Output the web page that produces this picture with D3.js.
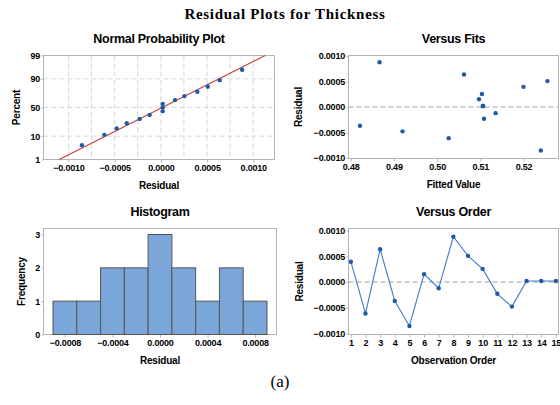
<!DOCTYPE html>
<html>
<head>
<meta charset="utf-8">
<script src="https://cdn.jsdelivr.net/npm/d3@7"></script>
<style>
  html, body { margin: 0; padding: 0; background: #fff; }
  svg { display: block; }
  text { font-family: "Liberation Sans", Arial, sans-serif; }
</style>
</head>
<body>
<svg id="chart" width="560" height="405"></svg>
<script>
// Residuals of the Thickness model, in observation order
const observationOrder = [1, 2, 3, 4, 5, 6, 7, 8, 9, 10, 11, 12, 13, 14, 15];
const residuals = [0.000395, -0.000611, 0.000637, -0.000369, -0.000854, 0.000153, -0.000121,
                   0.000879, 0.000508, 0.000255, -0.000229, -0.000478, 0.00002, 0.00002, 0.00002];
const fittedValues = [0.5200, 0.50269, 0.50623, 0.48215, 0.5240, 0.50969, 0.51354,
                      0.48669, 0.52554, 0.51038, 0.51085, 0.4920, 0.51062, 0.51062, 0.51062];

// Axis ticks
const probTicks = [1, 10, 50, 90, 99];
const probGrid = [10, 50, 90];
const probResidTicks = [-0.0010, -0.0005, 0.0000, 0.0005, 0.0010];
const probResidGrid = [-0.001, -0.00075, -0.0005, -0.00025, 0, 0.00025, 0.0005, 0.00075, 0.001];
const residTicks = [-0.0010, -0.0005, 0.0000, 0.0005, 0.0010];
const fitTicks = [0.48, 0.49, 0.50, 0.51, 0.52];
const histTicks = [-0.0008, -0.0004, 0.0000, 0.0004, 0.0008];
const histBinEdges = [-0.0009, -0.0007, -0.0005, -0.0003, -0.0001, 0.0001, 0.0003, 0.0005, 0.0007, 0.0009];
const freqTicks = [0, 1, 2, 3];

const svg = d3.select("#chart");
svg.append("rect").attr("width", 560).attr("height", 405).attr("fill", "#fff");

const FRAME = "#b4b4b4";
const POINT = "#1f5aa6";
const fmt4 = d3.format(".4f");
const fmt2 = d3.format(".2f");

// Inverse standard normal CDF (Acklam's rational approximation)
function qnorm(p) {
  const a = [-3.969683028665376e+01, 2.209460984245205e+02, -2.759285104469687e+02,
             1.383577518672690e+02, -3.066479806614716e+01, 2.506628277459239e+00];
  const b = [-5.447609879822406e+01, 1.615858368580409e+02, -1.556989798598866e+02,
             6.680131188771972e+01, -1.328068155833581e+01];
  const c = [-7.784894002430293e-03, -3.223964580411365e-01, -2.400758277161838e+00,
             -2.549732539343734e+00, 4.374664141464968e+00, 2.938163982698783e+00];
  const d = [7.784695709041462e-03, 3.224671290700398e-01, 2.445134137142996e+00,
             3.754408661907416e+00];
  const plow = 0.02425;
  let q, r;
  if (p < plow) {
    q = Math.sqrt(-2 * Math.log(p));
    return (((((c[0]*q+c[1])*q+c[2])*q+c[3])*q+c[4])*q+c[5]) / ((((d[0]*q+d[1])*q+d[2])*q+d[3])*q+1);
  } else if (p <= 1 - plow) {
    q = p - 0.5; r = q * q;
    return (((((a[0]*r+a[1])*r+a[2])*r+a[3])*r+a[4])*r+a[5])*q / (((((b[0]*r+b[1])*r+b[2])*r+b[3])*r+b[4])*r+1);
  }
  q = Math.sqrt(-2 * Math.log(1 - p));
  return -(((((c[0]*q+c[1])*q+c[2])*q+c[3])*q+c[4])*q+c[5]) / ((((d[0]*q+d[1])*q+d[2])*q+d[3])*q+1);
}

// Frame, axes and titles shared by all four panels
function panel(box, x, y, opts) {
  const g = svg.append("g");
  const xAxis = d3.axisBottom(x).tickValues(opts.xTicks).tickFormat(opts.xFormat)
    .tickSize(3).tickPadding(2);
  const yAxis = d3.axisLeft(y).tickValues(opts.yTicks).tickFormat(opts.yFormat)
    .tickSize(2).tickPadding(1.5);
  const gx = g.append("g").attr("transform", `translate(0,${box.y1})`).call(xAxis);
  const gy = g.append("g").attr("transform", `translate(${box.x0},0)`).call(yAxis);
  [gx, gy].forEach(a => {
    a.select(".domain").remove();
    a.selectAll(".tick line").attr("stroke", FRAME);
    a.selectAll(".tick text").attr("fill", "#000").style("font-size", "9px")
      .style("font-weight", "bold").style("letter-spacing", "-0.2px");
  });
  g.append("rect").attr("x", box.x0).attr("y", box.y0)
    .attr("width", box.x1 - box.x0).attr("height", box.y1 - box.y0)
    .attr("fill", "none").attr("stroke", FRAME).attr("stroke-width", 1);
  const cx = (box.x0 + box.x1) / 2;
  g.append("text").attr("x", cx).attr("y", box.y0 - 13)
    .attr("text-anchor", "middle").style("font-size", "12.5px").style("font-weight", "bold")
    .style("letter-spacing", "-0.3px").text(opts.title);
  g.append("text").attr("x", cx).attr("y", box.y1 + 29)
    .attr("text-anchor", "middle").style("font-size", "10px").style("font-weight", "bold")
    .style("letter-spacing", "-0.2px").text(opts.xTitle);
  g.append("text")
    .attr("transform", `translate(${opts.yTitleX},${(box.y0 + box.y1) / 2}) rotate(-90)`)
    .attr("text-anchor", "middle").style("font-size", "10px").style("font-weight", "bold")
    .style("letter-spacing", "-0.2px").text(opts.yTitle);
  return g;
}

// Main title and caption
svg.append("text").attr("x", 285).attr("y", 19).attr("text-anchor", "middle")
  .style("font-family", "'Liberation Serif', 'Times New Roman', serif")
  .style("font-size", "15px").style("font-weight", "bold").style("letter-spacing", "0.7px")
  .text("Residual Plots for Thickness");
svg.append("text").attr("x", 280).attr("y", 387).attr("text-anchor", "middle")
  .style("font-family", "'Liberation Serif', 'Times New Roman', serif")
  .style("font-size", "17px").text("(a)");

// ---- Normal probability plot ----
{
  const box = { x0: 43.5, x1: 274.5, y0: 55.5, y1: 159.5 };
  const x = d3.scaleLinear().domain([-0.00127, 0.00123]).range([box.x0, box.x1]);
  // vertical axis is linear in the normal quantile of the percent
  const z = d3.scaleLinear().domain([qnorm(0.01), qnorm(0.99)]).range([box.y1, box.y0]);
  const y = p => z(qnorm(p / 100));
  const zTicks = probTicks.map(p => qnorm(p / 100));
  const g = panel(box, x, z, {
    xTicks: probResidTicks, xFormat: fmt4, yTicks: zTicks, yFormat: (d, i) => probTicks[i],
    title: "Normal Probability Plot", xTitle: "Residual", yTitle: "Percent", yTitleX: 20
  });
  const grid = g.insert("g", ":first-child");
  grid.selectAll("line.v").data(probResidGrid).join("line").attr("class", "v")
    .attr("x1", d => x(d)).attr("x2", d => x(d)).attr("y1", box.y0).attr("y2", box.y1)
    .attr("stroke", "#d6d6d6").attr("stroke-dasharray", "5,3");
  grid.selectAll("line.h").data(probGrid).join("line").attr("class", "h")
    .attr("x1", box.x0).attr("x2", box.x1).attr("y1", d => y(d)).attr("y2", d => y(d))
    .attr("stroke", "#d6d6d6").attr("stroke-dasharray", "5,3");

  // fitted normal line from the residuals' mean and standard deviation
  const mean = d3.mean(residuals), sd = d3.deviation(residuals);
  const ends = [1, 99].map(p => [mean + sd * qnorm(p / 100), p]);
  g.append("path").datum(ends)
    .attr("d", d3.line().x(d => x(d[0])).y(d => y(d[1])))
    .attr("stroke", "#c0403c").attr("stroke-width", 1.1).attr("fill", "none");

  // plotting positions (i - 0.3) / (n + 0.4)
  const sorted = residuals.slice().sort(d3.ascending);
  const n = sorted.length;
  g.selectAll("circle").data(sorted).join("circle")
    .attr("cx", d => x(d)).attr("cy", (d, i) => y(100 * (i + 1 - 0.3) / (n + 0.4)))
    .attr("r", 2.2).attr("fill", POINT);
}

// ---- Versus Fits ----
{
  const box = { x0: 348.5, x1: 558.5, y0: 55.5, y1: 158.5 };
  const x = d3.scaleLinear().domain([0.4795, 0.5281]).range([box.x0, box.x1]);
  const y = d3.scaleLinear().domain([-0.00101, 0.00101]).range([box.y1, box.y0]);
  const g = panel(box, x, y, {
    xTicks: fitTicks, xFormat: fmt2, yTicks: residTicks, yFormat: fmt4,
    title: "Versus Fits", xTitle: "Fitted Value", yTitle: "Residual", yTitleX: 302
  });
  g.append("line").attr("x1", box.x0).attr("x2", box.x1).attr("y1", y(0)).attr("y2", y(0))
    .attr("stroke", "#a0a0a0").attr("stroke-dasharray", "5,3");
  g.selectAll("circle").data(residuals).join("circle")
    .attr("cx", (d, i) => x(fittedValues[i])).attr("cy", d => y(d))
    .attr("r", 2.2).attr("fill", POINT);
}

// ---- Histogram ----
{
  const box = { x0: 43.5, x1: 276.5, y0: 228.5, y1: 334.5 };
  const x = d3.scaleLinear().domain([-0.00098, 0.00098]).range([box.x0, box.x1]);
  const y = d3.scaleLinear().domain([0, 3.18]).range([box.y1, box.y0]);
  const g = panel(box, x, y, {
    xTicks: histTicks, xFormat: fmt4, yTicks: freqTicks, yFormat: d3.format("d"),
    title: "Histogram", xTitle: "Residual", yTitle: "Frequency", yTitleX: 25
  });
  const bins = d3.bin().domain([histBinEdges[0], histBinEdges[histBinEdges.length - 1]])
    .thresholds(histBinEdges.slice(1, -1))(residuals);
  g.selectAll("rect.bar").data(bins).join("rect").attr("class", "bar")
    .attr("x", d => x(d.x0)).attr("width", d => x(d.x1) - x(d.x0))
    .attr("y", d => y(d.length)).attr("height", d => y(0) - y(d.length))
    .attr("fill", "#7ba6d9").attr("stroke", "#555").attr("stroke-width", 1);
}

// ---- Versus Order ----
{
  const box = { x0: 348.5, x1: 558.5, y0: 228.5, y1: 334.5 };
  const x = d3.scaleLinear().domain([0.84, 15.18]).range([box.x0, box.x1]);
  const y = d3.scaleLinear().domain([-0.00102, 0.00104]).range([box.y1, box.y0]);
  const g = panel(box, x, y, {
    xTicks: observationOrder, xFormat: d3.format("d"), yTicks: residTicks, yFormat: fmt4,
    title: "Versus Order", xTitle: "Observation Order", yTitle: "Residual", yTitleX: 303
  });
  g.append("line").attr("x1", box.x0).attr("x2", box.x1).attr("y1", y(0)).attr("y2", y(0))
    .attr("stroke", "#a0a0a0").attr("stroke-dasharray", "5,3");
  g.append("path").datum(residuals)
    .attr("d", d3.line().x((d, i) => x(observationOrder[i])).y(d => y(d)))
    .attr("stroke", "#3d7cc9").attr("stroke-width", 1.1).attr("fill", "none");
  g.selectAll("circle").data(residuals).join("circle")
    .attr("cx", (d, i) => x(observationOrder[i])).attr("cy", d => y(d))
    .attr("r", 2.2).attr("fill", POINT);
}
</script>
</body>
</html>
